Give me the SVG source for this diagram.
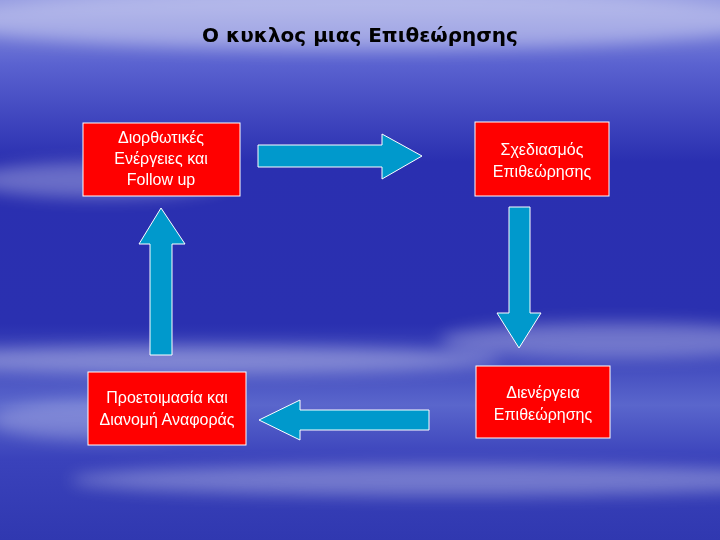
<svg xmlns="http://www.w3.org/2000/svg" width="720" height="540" viewBox="0 0 720 540">
<defs>
<linearGradient id="bg" x1="0" y1="0" x2="0" y2="1">
<stop offset="0" stop-color="#8f96e0"/><stop offset="0.12" stop-color="#5a62d0"/><stop offset="0.3" stop-color="#2a2fb0"/><stop offset="0.6" stop-color="#2a30b0"/><stop offset="0.75" stop-color="#5a66cc"/><stop offset="0.85" stop-color="#3a42bb"/><stop offset="1" stop-color="#3038b0"/>
</linearGradient>
<filter id="blur"><feGaussianBlur stdDeviation="8"/></filter>
<style>
.box{fill:#ff0000;stroke:#ffffff;stroke-width:1}
.arr{fill:#0099cc;stroke:#ffffff;stroke-width:1}
.t{font-family:"Liberation Sans",Arial,sans-serif;font-size:16px;fill:#ffffff;text-anchor:middle}
</style>
</defs>
<rect width="720" height="540" fill="url(#bg)"/>
<g filter="url(#blur)" fill="#ffffff">
<ellipse cx="360" cy="20" rx="420" ry="30" opacity="0.35"/>
<ellipse cx="100" cy="180" rx="130" ry="18" opacity="0.3"/>
<ellipse cx="200" cy="360" rx="300" ry="14" opacity="0.35"/>
<ellipse cx="620" cy="340" rx="180" ry="18" opacity="0.3"/>
<ellipse cx="450" cy="480" rx="380" ry="16" opacity="0.3"/>
<ellipse cx="100" cy="420" rx="110" ry="20" opacity="0.25"/>
</g>
<text x="360" y="42" font-family="'DejaVu Sans',sans-serif" font-size="20" font-weight="bold" fill="#000" text-anchor="middle">Ο κυκλος μιας Επιθεώρησης</text>
<g id="connectors">
<polygon class="arr" points="258,145 382,145 382,134 422,156 382,179 382,167 258,167"/>
<polygon class="arr" points="509,207 530,207 530,313 541,313 519,348 497,313 509,313"/>
<polygon class="arr" points="429,410 300,410 300,400 259,420 300,440 300,430 429,430"/>
<polygon class="arr" points="150,355 172,355 172,244 185,244 161,208 139,244 150,244"/>
</g>
<g id="n1"><rect class="box" x="83" y="123" width="157" height="73"/>
<text class="t" x="161" y="143">Διορθωτικές</text><text class="t" x="161" y="164">Ενέργειες και</text><text class="t" x="161" y="185">Follow up</text></g>
<g id="n2"><rect class="box" x="475" y="122" width="134" height="74"/>
<text class="t" x="542" y="155">Σχεδιασμός</text><text class="t" x="542" y="177">Επιθεώρησης</text></g>
<g id="n3"><rect class="box" x="476" y="366" width="134" height="72"/>
<text class="t" x="543" y="398">Διενέργεια</text><text class="t" x="543" y="420">Επιθεώρησης</text></g>
<g id="n4"><rect class="box" x="88" y="372" width="158" height="73"/>
<text class="t" x="167" y="403">Προετοιμασία και</text><text class="t" x="167" y="425">Διανομή Αναφοράς</text></g>
</svg>
